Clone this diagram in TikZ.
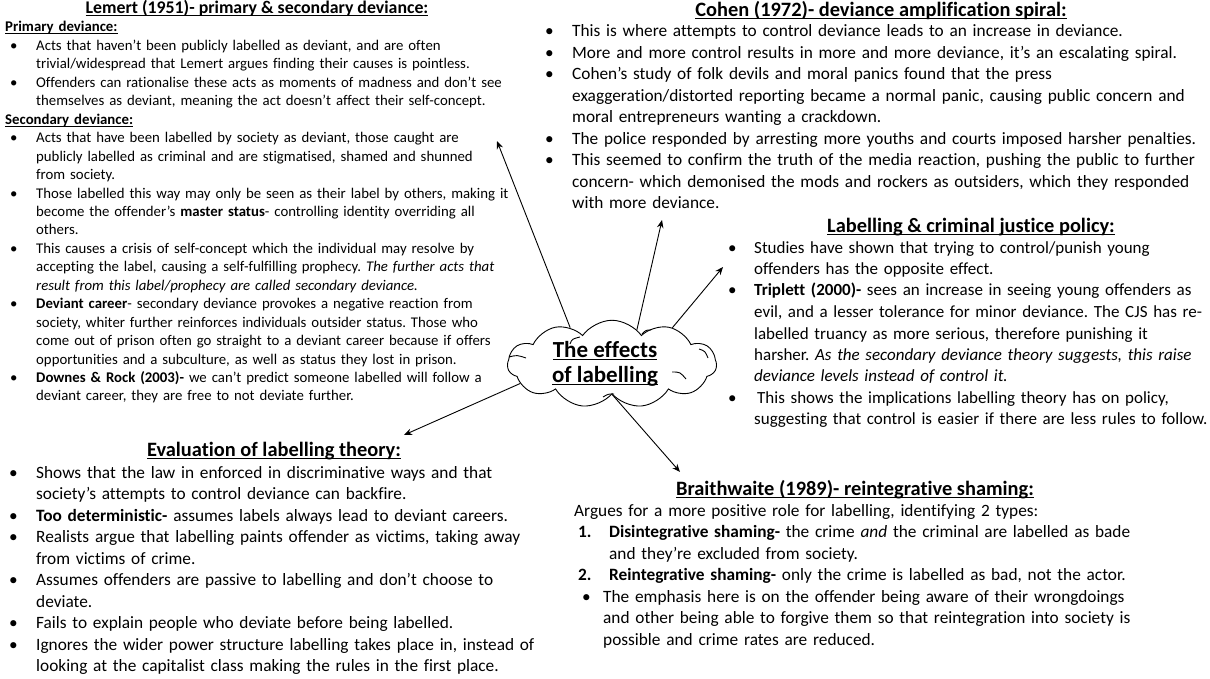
\documentclass[tikz,border=0pt]{standalone}
\usepackage{fontspec}
\setmainfont{Carlito}[Ligatures=NoCommon]
\usetikzlibrary{
    arrows.meta,
    positioning,
    shapes.symbols
}
\setlength{\parindent}{0pt}
\frenchspacing
% underline that cuts through the descenders, as in the slide
\newcommand{\uln}[1]{\setbox0\hbox{#1}\rlap{\rule[-2.4pt]{\wd0}{0.9pt}}\box0}
% list entries: [label]{label offset}{text indent}
\newcommand{\firstentry}[3][\textbullet]{\hangindent=#3\hangafter=1\makebox[#3][l]{\hspace{#2}#1}\ignorespaces}
\newcommand{\entry}{\par\firstentry}

\begin{document}
\begin{tikzpicture}[
    x=1pt, y=-1pt,
    heading/.style={
        anchor=base,
        inner sep=0pt,
        font=\fontsize{#1}{#1}\selectfont\bfseries
    },
    notes/.style={
        anchor=base west,
        inner sep=0pt,
        text width=#1,
        align=left,
        font=\fontsize{17.3}{21.5}\selectfont
    },
    smallnotes/.style={
        notes=#1,
        font=\fontsize{14.8}{18.45}\selectfont
    },
    bubble/.style={
        cloud,
        draw,
        line width=0.9pt,
        cloud puffs=11,
        cloud puff arc=110,
        aspect=2.6,
        minimum width=209pt,
        minimum height=78pt,
        inner sep=0pt,
        align=center,
        font=\fontsize{23}{25}\selectfont\bfseries
    },
    puff/.style={line width=0.9pt},
    arrow/.style={line width=0.9pt, -{Stealth[length=8pt, width=6.5pt]}}
]
\useasboundingbox (0,0) rectangle (1210,679);

% ============================================================
% CENTRE
% ============================================================
\node[bubble] (effects) at (612, 364) {\uln{The effects}\hspace*{14pt}\\\uln{of labelling}\hspace*{14pt}};

% inner strokes of the cloud
\draw[puff] (570,344) .. controls (572,339) .. (580,337);
\draw[puff] (642,334) .. controls (646,330) .. (651,330);
\draw[puff] (699,349) .. controls (705,351) .. (708,358);
\draw[puff] (672,372) .. controls (680,372) .. (686,379);
\draw[puff] (509,357) .. controls (517,355) .. (526,358);
\draw[puff] (603,397) .. controls (608,394) .. (614,394);

% ============================================================
% LEMERT
% ============================================================
\node[heading=17.8] (lemertTitle) at (257, 14) {\uln{Lemert (1951)- primary \& secondary deviance:}};
\node[smallnotes=520pt] (lemert) at (5, 32) {%
\textbf{\uln{Primary deviance:}}
\entry{5pt}{31pt} Acts that haven’t been publicly labelled as deviant, and are often\newline
trivial/widespread that Lemert argues finding their causes is pointless.
\entry{5pt}{31pt} Offenders can rationalise these acts as moments of madness and don’t see\newline
themselves as deviant, meaning the act doesn’t affect their self-concept.
\par\textbf{\uln{Secondary deviance:}}
\entry{5pt}{31pt} Acts that have been labelled by society as deviant, those caught are\newline
publicly labelled as criminal and are stigmatised, shamed and shunned\newline
from society.
\entry{5pt}{31pt} Those labelled this way may only be seen as their label by others, making it\newline
become the offender’s \textbf{master status}- controlling identity overriding all\newline
others.
\entry{5pt}{31pt} This causes a crisis of self-concept which the individual may resolve by\newline
accepting the label, causing a self-fulfilling prophecy. \textit{The further acts that\newline
result from this label/prophecy are called secondary deviance.}
\entry{5pt}{31pt} \textbf{Deviant career}- secondary deviance provokes a negative reaction from\newline
society, whiter further reinforces individuals outsider status. Those who\newline
come out of prison often go straight to a deviant career because if offers\newline
opportunities and a subculture, as well as status they lost in prison.
\entry{5pt}{31pt} \textbf{Downes \& Rock (2003)-} we can’t predict someone labelled will follow a\newline
deviant career, they are free to not deviate further.\par};

% ============================================================
% COHEN
% ============================================================
\node[heading=20.4] (cohenTitle) at (881, 17) {\uln{Cohen (1972)- deviance amplification spiral:}};
\node[notes=680pt] (cohen) at (545, 37) {%
\firstentry{0pt}{27pt} This is where attempts to control deviance leads to an increase in deviance.
\entry{0pt}{27pt} More and more control results in more and more deviance, it’s an escalating spiral.
\entry{0pt}{27pt} Cohen’s study of folk devils and moral panics found that the press\newline
exaggeration/distorted reporting became a normal panic, causing public concern and\newline
moral entrepreneurs wanting a crackdown.
\entry{0pt}{27pt} The police responded by arresting more youths and courts imposed harsher penalties.
\entry{0pt}{27pt} This seemed to confirm the truth of the media reaction, pushing the public to further\newline
concern- which demonised the mods and rockers as outsiders, which they responded\newline
with more deviance.\par};

% ============================================================
% CRIMINAL JUSTICE POLICY
% ============================================================
\node[heading=20.4] (policyTitle) at (971, 233) {\uln{Labelling \& criminal justice policy:}};
\node[notes=520pt, font=\fontsize{17}{21.5}\selectfont] (policy) at (728, 253) {%
\firstentry{0pt}{26pt} Studies have shown that trying to control/punish young\newline
offenders has the opposite effect.
\entry{0pt}{26pt} \textbf{Triplett (2000)-} sees an increase in seeing young offenders as\newline
evil, and a lesser tolerance for minor deviance. The CJS has re-\newline
labelled truancy as more serious, therefore punishing it\newline
harsher. \textit{As the secondary deviance theory suggests, this raise\newline
deviance levels instead of control it.}
\entry{0pt}{26pt} \hspace{3pt}This shows the implications labelling theory has on policy,\newline
suggesting that control is easier if there are less rules to follow.\par};

% ============================================================
% EVALUATION
% ============================================================
\node[heading=20.4] (evalTitle) at (274, 456) {\uln{Evaluation of labelling theory:}};
\node[notes=560pt] (evaluation) at (9, 478) {%
\firstentry{0pt}{27pt} Shows that the law in enforced in discriminative ways and that\newline
society’s attempts to control deviance can backfire.
\entry{0pt}{27pt} \textbf{Too deterministic-} assumes labels always lead to deviant careers.
\entry{0pt}{27pt} Realists argue that labelling paints offender as victims, taking away\newline
from victims of crime.
\entry{0pt}{27pt} Assumes offenders are passive to labelling and don’t choose to\newline
deviate.
\entry{0pt}{27pt} Fails to explain people who deviate before being labelled.
\entry{0pt}{27pt} Ignores the wider power structure labelling takes place in, instead of\newline
looking at the capitalist class making the rules in the first place.\par};

% ============================================================
% BRAITHWAITE
% ============================================================
\node[heading=20.4] (shamingTitle) at (855, 495) {\uln{Braithwaite (1989)- reintegrative shaming:}};
\node[notes=600pt] (shaming) at (574, 516) {%
Argues for a more positive role for labelling, identifying 2 types:
\entry[\textbf{1.}]{4pt}{35pt} \textbf{Disintegrative shaming-} the crime \textit{and} the criminal are labelled as bade\newline
and they’re excluded from society.
\entry[\textbf{2.}]{4pt}{35pt} \textbf{Reintegrative shaming-} only the crime is labelled as bad, not the actor.
\entry{8pt}{29pt} The emphasis here is on the offender being aware of their wrongdoings\newline
and other being able to forgive them so that reintegration into society is\newline
possible and crime rates are reduced.\par};

% ============================================================
% ARROWS
% ============================================================
\coordinate (tipLemert) at (497, 141);
\coordinate (tipCohen) at (662, 220);
\coordinate (tipPolicy) at (723, 267);
\coordinate (tipEval) at (404, 435);
\coordinate (tipShaming) at (680, 472);

\draw[arrow] (effects.139) -- (tipLemert);
\draw[arrow] (effects.54) -- (tipCohen);
\draw[arrow] (effects.31) -- (tipPolicy);
\draw[arrow] (effects.192) -- (tipEval);
\draw[arrow] (effects.271) -- (tipShaming);

\end{tikzpicture}
\end{document}
